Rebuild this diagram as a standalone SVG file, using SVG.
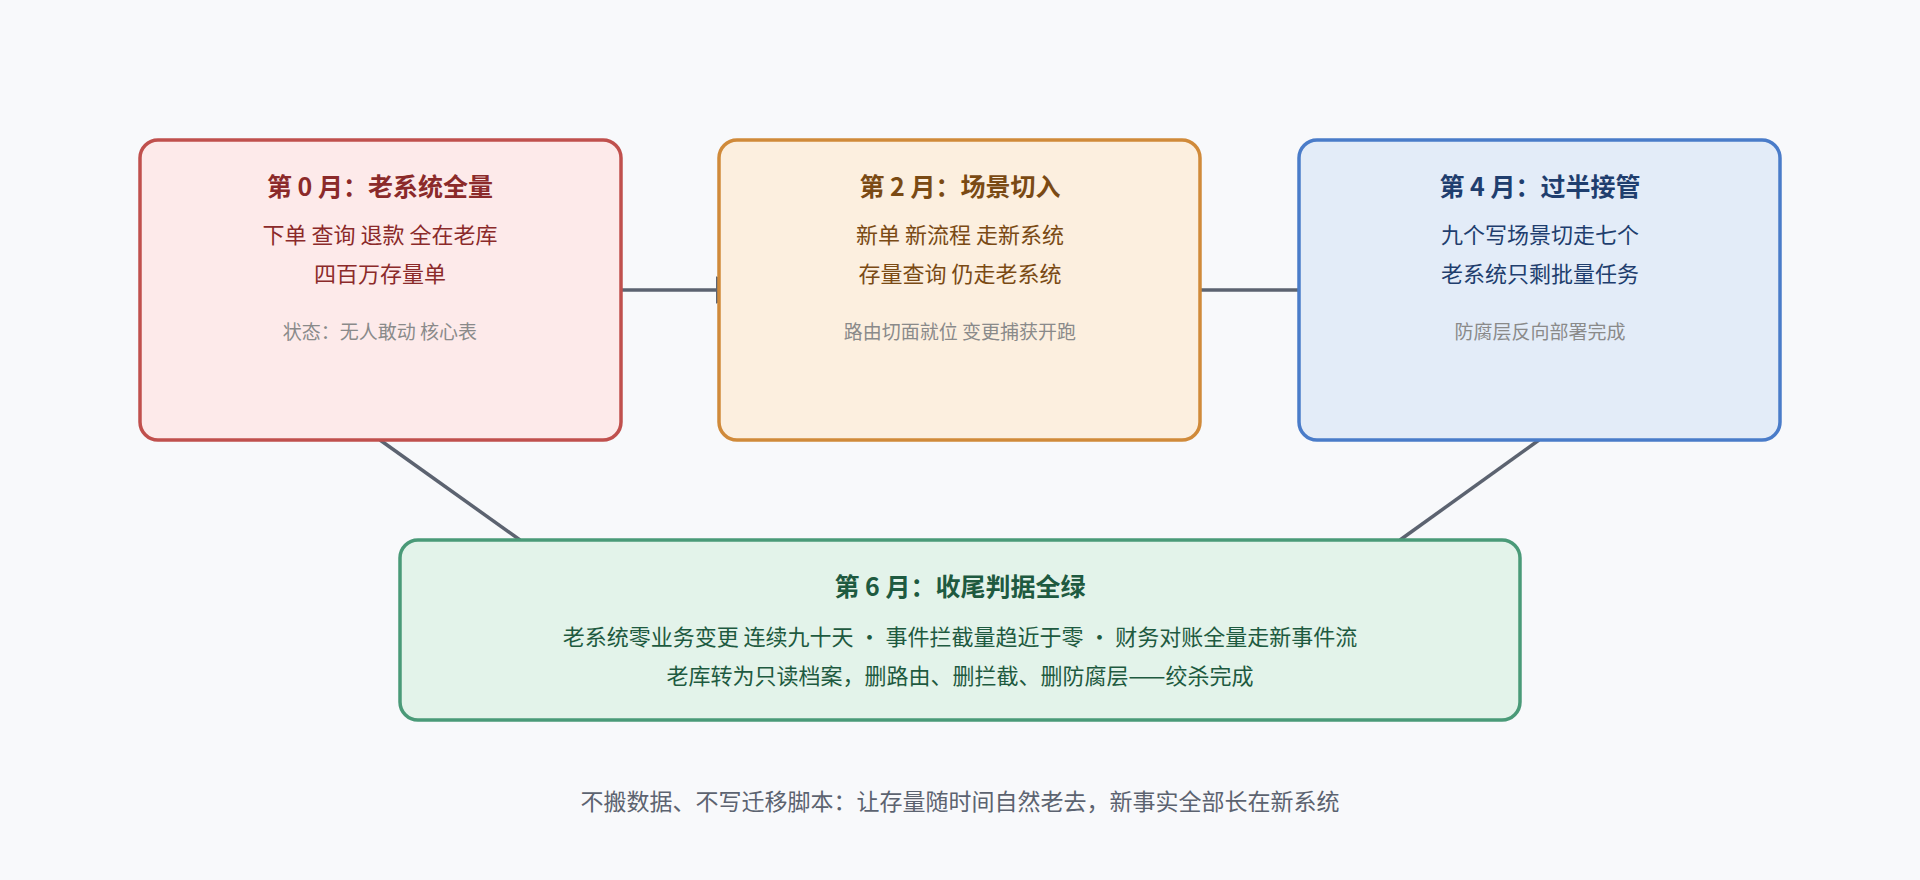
<svg xmlns="http://www.w3.org/2000/svg" width="1920" height="880" viewBox="0 0 1920 880">
<style>
text{font-family:"Noto Sans CJK SC","Noto Sans",sans-serif;text-anchor:middle}
.t{font-size:25px;font-weight:bold}
.b{font-size:22px}
.s{font-size:19px;fill:#8a8a8a}
.c{stroke:#5c6370;stroke-width:3.5;fill:none}
</style>
<defs><marker id="a" markerWidth="8" markerHeight="8" refX="7" refY="4" orient="auto" markerUnits="strokeWidth"><path d="M0,0 L8,4 L0,8Z" fill="#5c6370"/></marker></defs>
<rect width="1920" height="880" fill="#f8f9fb"/>
<g id="connectors">
<line class="c" x1="621" y1="290" x2="740" y2="290" marker-end="url(#a)"/>
<line class="c" x1="1200" y1="290" x2="1322" y2="290" marker-end="url(#a)"/>
<line class="c" x1="380" y1="440" x2="520" y2="540"/>
<line class="c" x1="1539" y1="440" x2="1400" y2="540"/>
</g>
<g id="n0"><rect x="140" y="140" width="481" height="300" rx="18" fill="#fdeaea" stroke="#c0504d" stroke-width="3.5"/>
<text class="t" x="380" y="196" fill="#8b2a2a">第 0 月：老系统全量</text>
<text class="b" x="380" y="243" fill="#8b2a2a">下单 查询 退款 全在老库</text>
<text class="b" x="380" y="282" fill="#8b2a2a">四百万存量单</text>
<text class="s" x="380" y="339">状态：无人敢动 核心表</text></g>
<g id="n2"><rect x="719" y="140" width="481" height="300" rx="18" fill="#fcefdf" stroke="#d08a3a" stroke-width="3.5"/>
<text class="t" x="960" y="196" fill="#7a4a14">第 2 月：场景切入</text>
<text class="b" x="960" y="243" fill="#7a4a14">新单 新流程 走新系统</text>
<text class="b" x="960" y="282" fill="#7a4a14">存量查询 仍走老系统</text>
<text class="s" x="960" y="339">路由切面就位 变更捕获开跑</text></g>
<g id="n4"><rect x="1299" y="140" width="481" height="300" rx="18" fill="#e3ecf8" stroke="#4a7cc9" stroke-width="3.5"/>
<text class="t" x="1540" y="196" fill="#1f3e6e">第 4 月：过半接管</text>
<text class="b" x="1540" y="243" fill="#1f3e6e">九个写场景切走七个</text>
<text class="b" x="1540" y="282" fill="#1f3e6e">老系统只剩批量任务</text>
<text class="s" x="1540" y="339">防腐层反向部署完成</text></g>
<g id="n6"><rect x="400" y="540" width="1120" height="180" rx="18" fill="#e3f3ea" stroke="#4a9a78" stroke-width="3.5"/>
<text class="t" x="960" y="596" fill="#1e5a40">第 6 月：收尾判据全绿</text>
<text class="b" x="960" y="645" fill="#1e5a40">老系统零业务变更 连续九十天 · 事件拦截量趋近于零 · 财务对账全量走新事件流</text>
<text class="b" x="960" y="684" fill="#1e5a40">老库转为只读档案，删路由、删拦截、删防腐层——绞杀完成</text></g>
<text x="960" y="810" style="font-size:23px" fill="#5c6370">不搬数据、不写迁移脚本：让存量随时间自然老去，新事实全部长在新系统</text>
</svg>
